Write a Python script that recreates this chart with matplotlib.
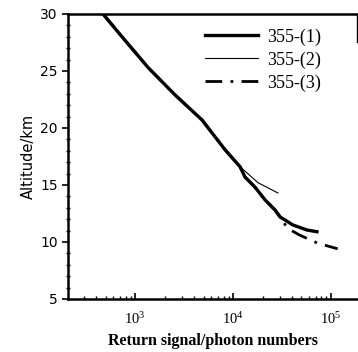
import matplotlib
matplotlib.use("Agg")
import matplotlib.pyplot as plt
from matplotlib.ticker import FixedLocator, MultipleLocator, LogLocator, NullFormatter

# 355-(1)
alt1 = [30, 28.0, 25.3, 22.9, 20.7, 18.1, 16.6, 15.7, 14.8, 13.7, 12.8, 12.2, 11.5, 11.05, 10.9]
sig1 = [471, 736, 1360, 2560, 4830, 8280, 11800, 13250, 16800, 21200, 26900, 30200, 40700, 56900, 71900]
# 355-(2)
alt2 = [30, 28.0, 25.3, 22.9, 20.7, 18.1, 16.6, 15.2, 14.3]
sig2 = [471, 736, 1360, 2560, 4830, 8280, 11800, 18000, 28700]
# 355-(3)
alt3 = [30, 28.0, 25.3, 22.9, 20.7, 18.1, 16.6, 15.7, 14.8, 13.7, 12.8, 12.2, 11.2, 10.6, 9.9, 9.4]
sig3 = [471, 736, 1360, 2560, 4830, 8280, 11800, 13250, 16800, 21200, 26900, 30200, 36000, 48000, 73000, 117000]

labels = ["355-(1)", "355-(2)", "355-(3)"]
yticks = [5, 10, 15, 20, 25, 30]

fig = plt.figure(figsize=(3.58, 3.52), dpi=100)
ax = fig.add_axes([0.19, 0.1506, 0.807, 0.8097])

ax.plot(sig3, alt3, color="black", lw=2.0, ls=(0, (6, 3, 1, 3)), label=labels[2])
ax.plot(sig1, alt1, color="black", lw=2.4, label=labels[0])
ax.plot(sig2, alt2, color="black", lw=0.8, label=labels[1])

ax.set_xscale("log")
ax.set_xlim(207, 184000)
ax.set_ylim(5, 30)

ax.yaxis.set_major_locator(FixedLocator(yticks))
ax.yaxis.set_minor_locator(MultipleLocator(1))
ax.tick_params(axis="y", which="major", direction="out", length=4, width=1.2)
ax.tick_params(axis="y", which="minor", direction="inout", length=3, width=1)
ax.xaxis.set_major_locator(LogLocator(base=10, numticks=10))
ax.xaxis.set_minor_locator(LogLocator(base=10, subs=range(2, 10), numticks=20))
ax.xaxis.set_minor_formatter(NullFormatter())
ax.tick_params(axis="x", which="major", direction="in", length=4, width=1.2, pad=9)
ax.tick_params(axis="x", which="minor", direction="in", length=2, width=1)

for lab in ax.get_xticklabels():
    lab.set_fontfamily("Liberation Serif")
    lab.set_fontsize(10.5)
for lab in ax.get_yticklabels():
    lab.set_fontfamily("DejaVu Sans")
    lab.set_fontsize(10)

for s in ["left", "bottom", "top"]:
    ax.spines[s].set_linewidth(1.8)
ax.spines["right"].set_linewidth(1.0)
ax.spines["right"].set_bounds(27.5, 30)

ax.set_xlabel("Return signal/photon numbers", fontfamily="Liberation Serif",
              fontsize=11.5, fontweight="bold", labelpad=4)
ax.set_ylabel("Altitude/km", fontfamily="DejaVu Sans", fontsize=10.5, labelpad=3)

handles, labs = ax.get_legend_handles_labels()
order = [1, 2, 0]
ax.legend([handles[i] for i in order], [labs[i] for i in order], loc="upper left",
          frameon=False, prop={"family": "Liberation Serif", "size": 13},
          handlelength=2.9, handletextpad=0.5, labelspacing=0.32,
          borderaxespad=0, borderpad=0, bbox_to_anchor=(0.475, 0.95))

fig.savefig("out.png", dpi=100)
